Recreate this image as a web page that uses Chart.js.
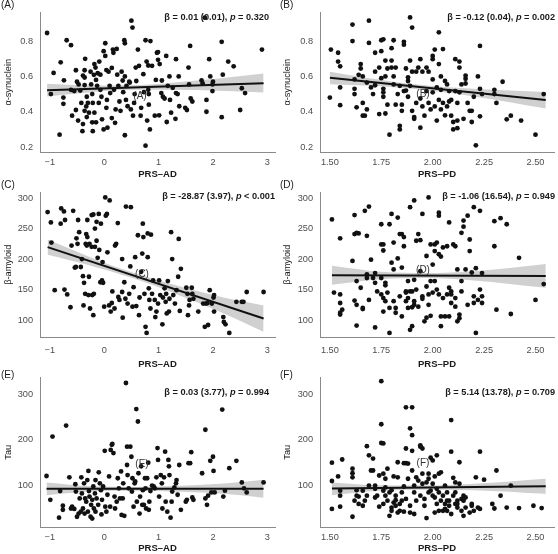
<!DOCTYPE html>
<html>
<head>
<meta charset="utf-8">
<title>PRS vs CSF biomarkers</title>
<script src="https://cdn.jsdelivr.net/npm/chart.js@4.4.1/dist/chart.umd.min.js"></script>
<style>
  html, body { margin: 0; padding: 0; background: #ffffff; }
  #wrap { position: relative; width: 558px; height: 554px; overflow: hidden; }
  #wrap canvas { position: absolute; }
</style>
</head>
<body>
<div id="wrap">
  <canvas id="panelA" width="279" height="180" style="left:0;top:0"></canvas>
  <canvas id="panelB" width="279" height="180" style="left:279px;top:0"></canvas>
  <canvas id="panelC" width="279" height="190" style="left:0;top:180px"></canvas>
  <canvas id="panelD" width="279" height="190" style="left:279px;top:180px"></canvas>
  <canvas id="panelE" width="279" height="189" style="left:0;top:365px"></canvas>
  <canvas id="panelF" width="279" height="189" style="left:279px;top:365px"></canvas>
</div>
<script>
// tick values
const adTicks = [-1, 0, 1, 2, 3];
const pdTicks = [1.5, 1.75, 2, 2.25, 2.5];
const synTicks = [0.2, 0.4, 0.6, 0.8];
const amyTicks = [100, 150, 200, 250, 300];
const tauTicks = [100, 200, 300];

// (A) PRS-AD vs alpha-synuclein
const aX = [-1.05,-0.93,-0.98,-0.80,-0.75,-0.75,-0.82,-0.69,-0.61,-0.74,
  -0.61,-0.55,-0.59,-0.52,-0.50,-0.48,-0.52,-0.47,-0.44,-0.42,
  -0.39,-0.40,-0.39,-0.36,-0.35,-0.36,-0.36,-0.32,-0.33,-0.36,
  -0.30,-0.28,-0.32,-0.25,-0.24,-0.22,-0.21,-0.22,-0.21,-0.19,
  -0.18,-0.16,-0.15,-0.18,-0.15,-0.13,-0.12,-0.10,-0.09,-0.07,
  -0.07,-0.05,-0.04,-0.01,-0.01,0.02,0.02,0.04,0.05,0.04,
  0.06,0.08,0.10,0.11,0.14,0.14,0.16,0.17,0.18,0.20,
  0.21,0.23,0.24,0.26,0.28,0.30,0.32,0.34,0.35,0.37,
  0.38,0.38,0.38,0.40,0.41,0.43,0.46,0.47,0.49,0.50,
  0.52,0.53,0.55,0.56,0.58,0.59,0.62,0.64,0.67,0.68,
  0.72,0.73,0.76,0.78,0.79,0.81,0.81,0.82,0.82,0.84,
  0.85,0.76,0.88,0.93,0.95,0.97,0.99,0.99,1.01,1.02,
  1.05,1.06,1.08,1.11,1.14,1.15,1.17,1.20,1.21,1.23,
  1.32,1.35,1.37,1.32,1.31,1.26,1.38,1.49,1.52,1.55,
  1.56,1.58,1.59,1.62,1.79,1.81,1.85,1.88,1.88,1.93,
  1.95,1.99,1.99,2.00,2.16,2.16,2.18,2.28,2.38,2.50,
  2.53,2.59,2.90];
const aY = [0.846,0.62,0.50,0.68,0.48,0.445,0.27,0.805,0.777,0.578,
  0.524,0.517,0.378,0.635,0.57,0.35,0.41,0.555,0.52,0.45,
  0.33,0.29,0.605,0.594,0.70,0.635,0.551,0.485,0.43,0.405,
  0.45,0.395,0.37,0.627,0.555,0.50,0.45,0.34,0.29,0.609,
  0.67,0.65,0.58,0.395,0.34,0.547,0.618,0.45,0.684,0.61,
  0.524,0.485,0.357,0.743,0.30,0.788,0.716,0.636,0.467,0.422,
  0.31,0.627,0.547,0.506,0.648,0.364,0.752,0.734,0.524,0.337,
  0.413,0.756,0.61,0.547,0.458,0.405,0.627,0.577,0.511,0.805,
  0.788,0.60,0.267,0.467,0.547,0.431,0.57,0.565,0.413,0.916,
  0.877,0.378,0.45,0.50,0.65,0.574,0.752,0.66,0.378,0.422,
  0.613,0.511,0.805,0.684,0.35,0.662,0.524,0.50,0.44,0.30,
  0.80,0.208,0.66,0.378,0.58,0.734,0.738,0.694,0.38,0.67,
  0.506,0.577,0.485,0.475,0.716,0.342,0.547,0.60,0.467,0.395,
  0.698,0.50,0.60,0.506,0.36,0.536,0.431,0.422,0.41,0.65,
  0.555,0.773,0.475,0.458,0.577,0.56,0.933,0.467,0.40,0.698,
  0.60,0.555,0.517,0.57,0.369,0.796,0.61,0.684,0.657,0.41,
  0.533,0.506,0.752];
const aFitX = [-1.05, 2.93];
const aFitY = [0.522, 0.562];
const aBandX = [-1.05, -0.25, 0.5, 1.3, 2.1, 2.93];
const aBandHi = [0.558, 0.549, 0.550, 0.566, 0.588, 0.616];
const aBandLo = [0.486, 0.511, 0.525, 0.525, 0.519, 0.509];

// (B) PRS-PD vs alpha-synuclein
const bX = [1.505,1.50,1.54,1.54,1.55,1.55,1.55,1.61,1.61,1.62,
  1.62,1.62,1.63,1.64,1.65,1.66,1.65,1.66,1.66,1.67,
  1.68,1.68,1.69,1.69,1.70,1.71,1.72,1.72,1.72,1.74,
  1.74,1.75,1.75,1.76,1.75,1.76,1.76,1.76,1.77,1.77,
  1.77,1.78,1.78,1.79,1.80,1.80,1.80,1.81,1.81,1.81,
  1.82,1.82,1.83,1.84,1.84,1.84,1.85,1.85,1.86,1.86,
  1.86,1.87,1.87,1.88,1.88,1.88,1.89,1.89,1.89,1.90,
  1.90,1.90,1.91,1.91,1.92,1.92,1.93,1.94,1.94,1.94,
  1.95,1.95,1.96,1.97,1.97,1.98,1.98,1.99,2.00,2.00,
  2.00,2.00,2.01,2.01,2.02,2.02,2.03,2.03,2.03,2.04,
  2.04,2.04,2.05,2.05,2.06,2.06,2.07,2.07,2.08,2.08,
  2.09,2.09,2.10,2.10,2.11,2.11,2.12,2.12,2.12,2.13,
  2.13,2.13,2.14,2.15,2.16,2.16,2.16,2.17,2.18,2.19,
  2.19,2.20,2.21,2.22,2.23,2.23,2.23,2.24,2.30,2.30,
  2.31,2.34,2.36,2.38,2.43,2.50,2.54];
const bY = [0.752,0.48,0.734,0.684,0.657,0.538,0.437,0.80,0.894,0.583,
  0.53,0.50,0.425,0.609,0.67,0.378,0.645,0.60,0.45,0.378,
  0.413,0.565,0.916,0.79,0.538,0.50,0.734,0.627,0.55,0.65,
  0.387,0.805,0.743,0.81,0.59,0.53,0.51,0.485,0.69,0.39,
  0.60,0.645,0.44,0.27,0.76,0.69,0.65,0.60,0.805,0.555,
  0.65,0.44,0.50,0.547,0.30,0.32,0.44,0.405,0.517,0.78,
  0.796,0.645,0.52,0.574,0.595,0.485,0.69,0.934,0.547,0.405,
  0.877,0.627,0.36,0.37,0.45,0.627,0.65,0.31,0.698,0.475,
  0.43,0.627,0.378,0.517,0.65,0.627,0.45,0.413,0.716,0.698,
  0.583,0.51,0.43,0.752,0.538,0.35,0.67,0.467,0.85,0.524,
  0.413,0.60,0.755,0.45,0.38,0.574,0.43,0.555,0.517,0.458,
  0.467,0.378,0.342,0.30,0.698,0.517,0.45,0.35,0.307,0.684,
  0.65,0.51,0.555,0.36,0.605,0.587,0.56,0.45,0.405,0.342,
  0.405,0.485,0.21,0.60,0.773,0.53,0.374,0.50,0.524,0.50,
  0.45,0.57,0.357,0.378,0.35,0.27,0.50];
const bFitX = [1.50, 2.55];
const bFitY = [0.592, 0.466];
const bBandX = [1.50, 1.70, 1.95, 2.20, 2.55];
const bBandHi = [0.627, 0.589, 0.551, 0.530, 0.512];
const bBandLo = [0.556, 0.547, 0.525, 0.487, 0.419];

// (C) PRS-AD vs beta-amyloid
const cX = [-1.04,-0.98,-0.97,-0.91,-0.79,-0.80,-0.74,-0.72,-0.73,-0.68,
  -0.62,-0.57,-0.60,-0.54,-0.51,-0.52,-0.49,-0.48,-0.46,-0.43,
  -0.41,-0.39,-0.38,-0.37,-0.35,-0.34,-0.33,-0.32,-0.31,-0.31,
  -0.29,-0.28,-0.27,-0.26,-0.23,-0.23,-0.22,-0.20,-0.20,-0.19,
  -0.17,-0.17,-0.14,-0.14,-0.12,-0.10,-0.09,-0.07,-0.06,-0.04,
  -0.03,-0.02,0.00,0.02,0.03,0.05,0.06,0.09,0.10,0.12,
  0.14,0.15,0.19,0.20,0.22,0.25,0.26,0.28,0.33,0.33,
  0.34,0.37,0.39,0.40,0.43,0.46,0.48,0.49,0.52,0.54,
  0.57,0.59,0.62,0.64,0.65,0.68,0.70,0.71,0.72,0.74,
  0.76,0.78,0.80,0.80,0.82,0.83,0.85,0.86,0.88,0.90,
  0.93,0.94,0.96,0.99,1.01,1.03,1.07,1.08,1.11,1.13,
  1.14,1.15,1.17,1.19,1.20,1.23,1.25,1.27,1.30,1.33,
  1.36,1.37,1.39,1.41,1.51,1.53,1.54,1.56,1.57,1.61,
  1.62,1.64,1.73,1.82,1.85,1.87,1.90,1.91,1.94,1.98,
  2.01,2.02,2.02,2.19,2.20,2.23,2.30,2.43,2.53,2.56,
  2.62,2.93];
const cY = [277,260,227,149,283,258,278,264,150,142,
  121,279,222,186,234,187,225,264,244,187,
  200,172,124,161,143,225,241,222,236,264,
  141,171,225,119,220,272,141,273,108,143,
  250,220,230,261,202,274,215,162,258,165,
  195,161,122,301,271,274,211,124,296,114,
  128,147,119,222,225,259,138,133,200,146,
  104,162,135,286,127,143,188,285,122,154,
  203,123,239,108,137,179,209,258,236,143,
  89,79,203,242,152,133,119,240,143,165,
  133,105,114,127,165,141,93,137,152,130,
  143,111,164,114,135,244,200,141,127,149,
  171,233,115,184,153,143,108,124,133,153,
  143,135,114,127,89,127,128,92,149,127,
  137,141,114,105,97,93,79,130,130,130,
  146,146];
const cFitX = [-1.04, 2.93];
const cFitY = [219.6, 102.7];
const cBandX = [-1.04, -0.2, 0.55, 1.4, 2.2, 2.93];
const cBandHi = [232, 201, 177, 155, 137, 124];
const cBandLo = [207, 188, 168, 140, 111, 81];

// (D) PRS-PD vs beta-amyloid
const dX = [1.51,1.52,1.55,1.55,1.55,1.55,1.55,1.56,1.61,1.62,
  1.62,1.63,1.63,1.62,1.63,1.63,1.64,1.65,1.66,1.66,
  1.67,1.68,1.68,1.68,1.69,1.69,1.70,1.71,1.72,1.72,
  1.72,1.73,1.75,1.75,1.75,1.75,1.76,1.76,1.76,1.76,
  1.77,1.77,1.77,1.78,1.79,1.79,1.79,1.80,1.80,1.81,
  1.81,1.81,1.82,1.82,1.83,1.83,1.84,1.84,1.85,1.85,
  1.85,1.86,1.86,1.87,1.87,1.87,1.88,1.88,1.88,1.89,
  1.89,1.89,1.90,1.90,1.90,1.91,1.91,1.91,1.91,1.92,
  1.92,1.93,1.93,1.94,1.94,1.95,1.95,1.95,1.96,1.97,
  1.97,1.97,1.98,1.98,1.98,1.99,1.99,1.99,2.00,2.00,
  2.01,2.01,2.01,2.02,2.02,2.03,2.03,2.03,2.03,2.04,
  2.04,2.04,2.05,2.05,2.06,2.07,2.07,2.08,2.08,2.08,
  2.09,2.09,2.09,2.10,2.11,2.11,2.11,2.12,2.12,2.13,
  2.13,2.14,2.14,2.14,2.15,2.15,2.16,2.17,2.17,2.18,
  2.18,2.19,2.20,2.20,2.20,2.21,2.21,2.22,2.23,2.23,
  2.24,2.24,2.24,2.30,2.30,2.31,2.33,2.36,2.38,2.42,
  2.50,2.54];
const dY = [265,145,234,142,128,112,109,117,197,241,
  272,243,164,132,125,91,242,153,120,118,
  279,238,175,169,133,286,199,169,177,161,
  88,147,257,224,169,142,214,224,136,114,
  131,157,161,145,257,120,79,194,274,183,
  131,227,120,112,268,201,241,139,241,106,
  186,236,221,147,131,145,136,120,164,147,
  84,285,121,90,147,166,296,131,125,230,
  150,241,122,231,180,274,139,135,98,205,
  155,104,301,142,125,224,164,107,191,145,
  224,164,213,150,227,208,276,271,142,90,
  106,204,219,136,106,142,221,260,106,153,
  147,142,128,224,136,221,122,183,98,103,
  109,164,147,243,253,263,183,271,125,232,
  213,178,139,128,285,185,79,133,279,150,
  128,139,177,262,221,117,267,257,110,202,
  133,159];
const dFitX = [1.51, 2.55];
const dFitY = [173.5, 172.4];
const dBandX = [1.51, 1.75, 1.97, 2.2, 2.55];
const dBandHi = [189, 179, 177, 180, 192];
const dBandLo = [158, 167, 169, 165, 153];

// (E) PRS-AD vs tau
const eX = [-1.06,-0.99,-0.95,-0.83,-0.81,-0.76,-0.76,-0.70,-0.64,-0.61,
  -0.59,-0.55,-0.53,-0.52,-0.50,-0.47,-0.45,-0.43,-0.42,-0.41,
  -0.39,-0.37,-0.36,-0.35,-0.33,-0.31,-0.30,-0.29,-0.28,-0.27,
  -0.25,-0.24,-0.22,-0.22,-0.20,-0.19,-0.17,-0.16,-0.16,-0.14,
  -0.11,-0.10,-0.08,-0.06,-0.05,-0.04,-0.02,0.01,0.02,0.04,
  0.06,0.09,0.11,0.12,0.14,0.15,0.17,0.19,0.20,0.23,
  0.25,0.27,0.29,0.31,0.32,0.34,0.35,0.37,0.40,0.42,
  0.42,0.43,0.45,0.48,0.50,0.51,0.52,0.54,0.56,0.57,
  0.59,0.60,0.62,0.63,0.65,0.66,0.68,0.70,0.71,0.73,
  0.75,0.76,0.77,0.79,0.81,0.82,0.83,0.85,0.88,0.91,
  0.93,0.96,0.98,0.99,1.01,1.04,1.06,1.07,1.10,1.12,
  1.13,1.16,1.18,1.19,1.20,1.22,1.24,1.25,1.29,1.32,
  1.33,1.35,1.38,1.41,1.50,1.52,1.55,1.58,1.60,1.62,
  1.64,1.80,1.86,1.86,1.89,1.91,1.95,1.97,2.00,2.01,
  2.03,2.17,2.19,2.22,2.30,2.43,2.53,2.57,2.62,2.93];
const eY = [121,69,207,30,88,56,47,231,118,50,
  54,49,103,87,32,39,72,43,118,83,
  50,105,39,72,65,112,43,132,88,76,
  32,58,28,69,98,50,83,43,112,72,
  58,129,105,90,37,69,98,176,54,43,
  80,120,54,178,189,191,171,76,50,65,
  116,94,72,131,36,72,105,34,324,185,
  145,123,94,185,163,87,116,54,105,109,
  267,65,240,127,39,76,142,58,90,58,
  116,94,50,116,150,47,65,88,100,98,
  94,118,182,156,76,123,105,50,118,174,
  65,43,156,142,123,30,65,87,96,105,
  112,80,145,47,65,69,149,149,173,74,
  69,127,222,72,58,78,154,85,163,132,
  85,266,76,89,138,154,107,94,85,107];
const eFitX = [-1.06, 2.93];
const eFitY = [93.0, 93.2];
const eBandX = [-1.06, -0.2, 0.55, 1.4, 2.2, 2.93];
const eBandHi = [107, 98.5, 97, 99.5, 104.5, 113];
const eBandLo = [79, 87.5, 89, 86.5, 82, 73.5];

// (F) PRS-PD vs tau
const fX = [1.51,1.51,1.51,1.54,1.55,1.55,1.55,1.56,1.61,1.61,
  1.61,1.61,1.62,1.63,1.63,1.64,1.64,1.66,1.66,1.67,
  1.68,1.68,1.69,1.69,1.70,1.71,1.71,1.72,1.72,1.72,
  1.73,1.74,1.74,1.75,1.75,1.76,1.75,1.76,1.76,1.76,
  1.77,1.77,1.77,1.78,1.78,1.79,1.79,1.80,1.80,1.80,
  1.81,1.81,1.82,1.82,1.82,1.83,1.83,1.83,1.84,1.84,
  1.85,1.85,1.86,1.86,1.86,1.87,1.87,1.87,1.87,1.88,
  1.88,1.89,1.89,1.89,1.90,1.90,1.90,1.90,1.91,1.91,
  1.91,1.92,1.92,1.93,1.94,1.94,1.94,1.95,1.95,1.95,
  1.96,1.96,1.97,1.97,1.98,1.98,1.98,1.99,1.99,2.00,
  2.00,2.00,2.01,2.01,2.01,2.02,2.02,2.02,2.03,2.03,
  2.03,2.04,2.04,2.05,2.05,2.06,2.06,2.06,2.07,2.07,
  2.07,2.08,2.08,2.09,2.09,2.09,2.10,2.10,2.11,2.11,
  2.11,2.12,2.12,2.12,2.13,2.13,2.14,2.14,2.15,2.15,
  2.15,2.16,2.16,2.18,2.19,2.19,2.20,2.21,2.22,2.23,
  2.23,2.25,2.29,2.30,2.31,2.33,2.36,2.38,2.42,2.49,
  2.53];
const fY = [150,49,110,120,78,89,54,157,137,127,
  118,32,67,90,78,76,60,89,56,67,
  186,78,100,166,133,159,133,93,74,100,
  78,122,54,234,193,89,328,192,126,60,
  96,78,115,67,137,85,34,52,90,45,
  63,120,78,56,68,41,118,151,60,45,
  85,67,43,149,98,271,71,181,149,115,
  148,56,225,41,176,210,133,271,100,38,
  85,118,67,111,185,78,188,181,126,104,
  71,56,107,29,126,85,115,89,161,78,
  155,104,74,41,120,60,166,93,45,85,
  126,129,67,45,78,60,49,100,85,45,
  67,56,67,174,243,38,78,117,60,107,
  85,67,52,60,151,104,45,71,34,78,
  67,74,52,41,60,56,45,118,52,49,
  174,113,60,50,133,78,52,100,51,56,
  51];
const fFitX = [1.51, 2.55];
const fFitY = [93.4, 98.6];
const fBandX = [1.51, 1.72, 1.95, 2.2, 2.55];
const fBandHi = [107, 101, 100, 104, 115];
const fBandLo = [79, 88, 91, 90, 82];

// regression annotations
const statBeta = ["0.01 (0.01)", "-0.12 (0.04)", "-28.87 (3.97)", "-1.06 (16.54)", "0.03 (3.77)", "5.14 (13.78)"];
const statP = ["= 0.320", "= 0.002", "< 0.001", "= 0.949", "= 0.994", "= 0.709"];

const FONT = '"Liberation Sans", Arial, Helvetica, sans-serif';
Chart.defaults.font.family = FONT;

const fmtAD = v => (v < 0 ? "\u2212" + Math.abs(v) : String(v));
const fmtPD = v => v.toFixed(2);
const fmtSyn = v => v.toFixed(1);
const fmtInt = v => String(v);

// layout of the 3x2 grid (canvas coordinates)
const rows = [
    { plotTop: 4, axisH: 28, tagY: 5, tickPad: 5 },
    { plotTop: 12, axisH: 33, tagY: 5, tickPad: 8 },
    { plotTop: 12, axisH: 27, tagY: 10, tickPad: 5 }
];
const cols = [
    { yAxisW: 40, xMin: -1.18, xMax: 3.14, ticks: adTicks, fmt: fmtAD, title: "PRS\u2013AD", statX: [269, 275, 269] },
    { yAxisW: 41, xMin: 1.452, xMax: 2.59, ticks: pdTicks, fmt: fmtPD, title: "PRS\u2013PD", statX: [276, 276, 276] }
];
const yAxes = [
    { min: 0.172, max: 0.962, ticks: synTicks, fmt: fmtSyn, title: "\u03b1-synuclein", statY: 17 },
    { min: 72.3, max: 309, ticks: amyTicks, fmt: fmtInt, title: "\u03b2-amyloid", statY: 16 },
    { min: 9.6, max: 336, ticks: tauTicks, fmt: fmtInt, title: "Tau", statY: 27 }
];

const panels = [
    { id: "panelA", tag: "(A)", xs: aX, ys: aY, fitX: aFitX, fitY: aFitY, bandX: aBandX, hi: aBandHi, lo: aBandLo, inner: [140, 96] },
    { id: "panelB", tag: "(B)", xs: bX, ys: bY, fitX: bFitX, fitY: bFitY, bandX: bBandX, hi: bBandHi, lo: bBandLo, inner: [144, 94] },
    { id: "panelC", tag: "(C)", xs: cX, ys: cY, fitX: cFitX, fitY: cFitY, bandX: cBandX, hi: cBandHi, lo: cBandLo, inner: [142, 94] },
    { id: "panelD", tag: "(D)", xs: dX, ys: dY, fitX: dFitX, fitY: dFitY, bandX: dBandX, hi: dBandHi, lo: dBandLo, inner: [144, 90] },
    { id: "panelE", tag: "(E)", xs: eX, ys: eY, fitX: eFitX, fitY: eFitY, bandX: eBandX, hi: eBandHi, lo: eBandLo, inner: [142, 99] },
    { id: "panelF", tag: "(F)", xs: fX, ys: fY, fitX: fFitX, fitY: fFitY, bandX: fBandX, hi: fBandHi, lo: fBandLo, inner: [144, 98] }
];

const zip = (xs, ys) => xs.map((x, i) => ({ x: x, y: ys[i] }));

// tags, in-plot letters and the beta/p annotation
const panelText = {
    id: "panelText",
    afterDatasetsDraw(chart, args, opts) {
        const ctx = chart.ctx;
        ctx.save();
        ctx.textBaseline = "middle";

        ctx.fillStyle = "#1a1a1a";
        ctx.font = "10px " + FONT;
        ctx.textAlign = "left";
        ctx.fillText(opts.tag, 1, opts.tagY);

        ctx.fillStyle = "#333333";
        ctx.textAlign = "center";
        ctx.fillText(opts.tag, opts.inner[0], opts.inner[1]);

        const parts = [
            ["\u03b2 = " + opts.beta + ", ", "bold 9.2px " + FONT],
            ["p", "italic bold 9.2px " + FONT],
            [" " + opts.p, "bold 9.2px " + FONT]
        ];
        let total = 0;
        parts.forEach(p => { ctx.font = p[1]; total += ctx.measureText(p[0]).width; });
        let x = opts.statX - total;
        ctx.fillStyle = "#1a1a1a";
        ctx.textAlign = "left";
        parts.forEach(p => {
            ctx.font = p[1];
            ctx.fillText(p[0], x, opts.statY);
            x += ctx.measureText(p[0]).width;
        });
        ctx.restore();
    }
};

panels.forEach((panel, i) => {
    const r = Math.floor(i / 2);
    const col = cols[i % 2];
    const row = rows[r];
    const ya = yAxes[r];

    new Chart(document.getElementById(panel.id), {
        type: "scatter",
        data: {
            datasets: [
                {
                    type: "line",
                    data: zip(panel.fitX, panel.fitY),
                    borderColor: "#111111",
                    borderWidth: 2,
                    pointRadius: 0,
                    fill: false,
                    order: 0
                },
                {
                    type: "scatter",
                    data: zip(panel.xs, panel.ys),
                    backgroundColor: "#111111",
                    borderWidth: 0,
                    pointRadius: 2.4,
                    order: 1
                },
                {
                    type: "line",
                    data: zip(panel.bandX, panel.hi),
                    borderWidth: 0,
                    pointRadius: 0,
                    backgroundColor: "#d0d0d0",
                    fill: "+1",
                    cubicInterpolationMode: "monotone",
                    order: 2
                },
                {
                    type: "line",
                    data: zip(panel.bandX, panel.lo),
                    borderWidth: 0,
                    pointRadius: 0,
                    fill: false,
                    cubicInterpolationMode: "monotone",
                    order: 3
                }
            ]
        },
        options: {
            responsive: false,
            animation: false,
            events: [],
            layout: { padding: { top: row.plotTop, right: 1, bottom: 0, left: 0 } },
            plugins: {
                legend: { display: false },
                tooltip: { enabled: false },
                panelText: {
                    tag: panel.tag,
                    tagY: row.tagY,
                    inner: panel.inner,
                    beta: statBeta[i],
                    p: statP[i],
                    statX: col.statX[r],
                    statY: ya.statY
                }
            },
            scales: {
                x: {
                    type: "linear",
                    min: col.xMin,
                    max: col.xMax,
                    afterBuildTicks: s => { s.ticks = col.ticks.map(v => ({ value: v })); },
                    afterFit: s => { s.height = row.axisH; },
                    grid: { display: false, drawTicks: false },
                    border: { display: true, color: "#8a8a8a", width: 1 },
                    ticks: {
                        autoSkip: false,
                        maxRotation: 0,
                        padding: row.tickPad,
                        color: "#4d4d4d",
                        font: { size: 9.2 },
                        callback: v => col.fmt(v)
                    },
                    title: {
                        display: true,
                        text: col.title,
                        color: "#1a1a1a",
                        font: { size: 9.5, weight: "bold" },
                        padding: { top: 0, bottom: 0 }
                    }
                },
                y: {
                    type: "linear",
                    min: ya.min,
                    max: ya.max,
                    afterBuildTicks: s => { s.ticks = ya.ticks.map(v => ({ value: v })); },
                    afterFit: s => { s.width = col.yAxisW; },
                    grid: { display: false, drawTicks: false },
                    border: { display: true, color: "#8a8a8a", width: 1 },
                    ticks: {
                        padding: 7,
                        color: "#4d4d4d",
                        font: { size: 9.2 },
                        callback: v => ya.fmt(v)
                    },
                    title: {
                        display: true,
                        text: ya.title,
                        color: "#1a1a1a",
                        font: { size: 9.2 },
                        padding: { top: 3, bottom: 0 }
                    }
                }
            }
        },
        plugins: [panelText]
    });
});
</script>
</body>
</html>
